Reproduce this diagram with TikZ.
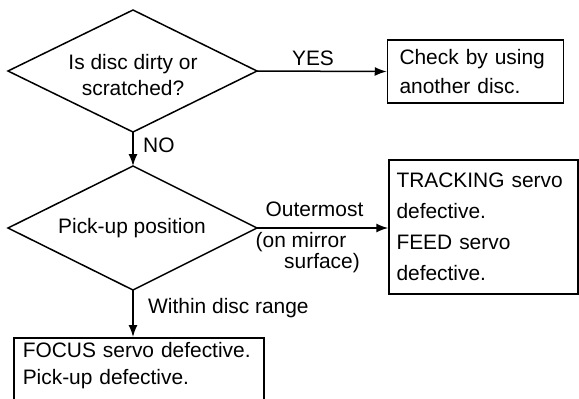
\documentclass[tikz,border=0pt]{standalone}
\usepackage{fontspec}
\setmainfont{Liberation Sans}
\usetikzlibrary{arrows.meta}
\begin{document}
\begin{tikzpicture}[x=1bp,y=-1bp,
  every node/.style={font=\fontsize{21}{29}\selectfont},
  shape line/.style={draw, line width=1.5bp},
  box/.style={draw, line width=1.5bp, rectangle, align=left, inner ysep=4bp},
  lbl/.style={inner sep=0pt},
  conn/.style={line width=1.5bp, -{Latex[length=12bp,width=9bp]}}]
\useasboundingbox (0,0) rectangle (579,398);
\clip (0,0) rectangle (579,398);
% decision 1
\coordinate (d1n) at (133,10);
\coordinate (d1e) at (257,71);
\coordinate (d1s) at (133,132);
\coordinate (d1w) at (8,71);
\draw[shape line, line join=miter] (d1n) -- (d1e) -- (d1s) -- (d1w) -- cycle;
\node[align=center, inner sep=0pt, font=\fontsize{21}{27}\selectfont] (d1t) at (133,75) {Is disc dirty or\\scratched?};
% decision 2
\coordinate (d2n) at (133,166);
\coordinate (d2e) at (257,228);
\coordinate (d2s) at (133,290);
\coordinate (d2w) at (8,228);
\draw[shape line, line join=miter] (d2n) -- (d2e) -- (d2s) -- (d2w) -- cycle;
\node[inner sep=0pt] (d2t) at (132,228) {Pick-up position};
% boxes
\node[box, minimum width=175bp, minimum height=63bp, text width=152bp, inner xsep=12bp] (b1) at (475.5,71.5) {Check by using\\another disc.};
\node[box, minimum width=189bp, minimum height=134bp, text width=174bp, inner xsep=7bp,
  font=\fontsize{21}{31}\selectfont] (b2) at (483.5,227) {TRACKING servo\\defective.\\FEED servo\\defective.};
\node[box, anchor=north west, text width=232bp, inner xsep=9bp, inner ysep=4.5bp,
  font=\fontsize{21}{27}\selectfont] (b3) at (13,337) {FOCUS servo defective.\\Pick-up defective.\\ ~\\ ~};
% connectors
\draw[conn] (d1e) -- (b1.west);
\draw[conn] (d1s) -- (d2n);
\draw[conn] (d2e) -- (d2e -| b2.west);
\draw[conn] (d2s) -- (d2s |- b3.north);
% labels
\node[lbl] (yes) at (313,58) {YES};
\node[lbl, anchor=west] (no) at (143,145) {NO};
\node[lbl] (outer) at (314.5,209) {Outermost};
\node[lbl] (onm) at (301,242) {(on mirror};
\node[lbl] (surf) at (322,263) {surface)};
\node[lbl, anchor=west] (within) at (148,308) {Within disc range};
\end{tikzpicture}
\end{document}
